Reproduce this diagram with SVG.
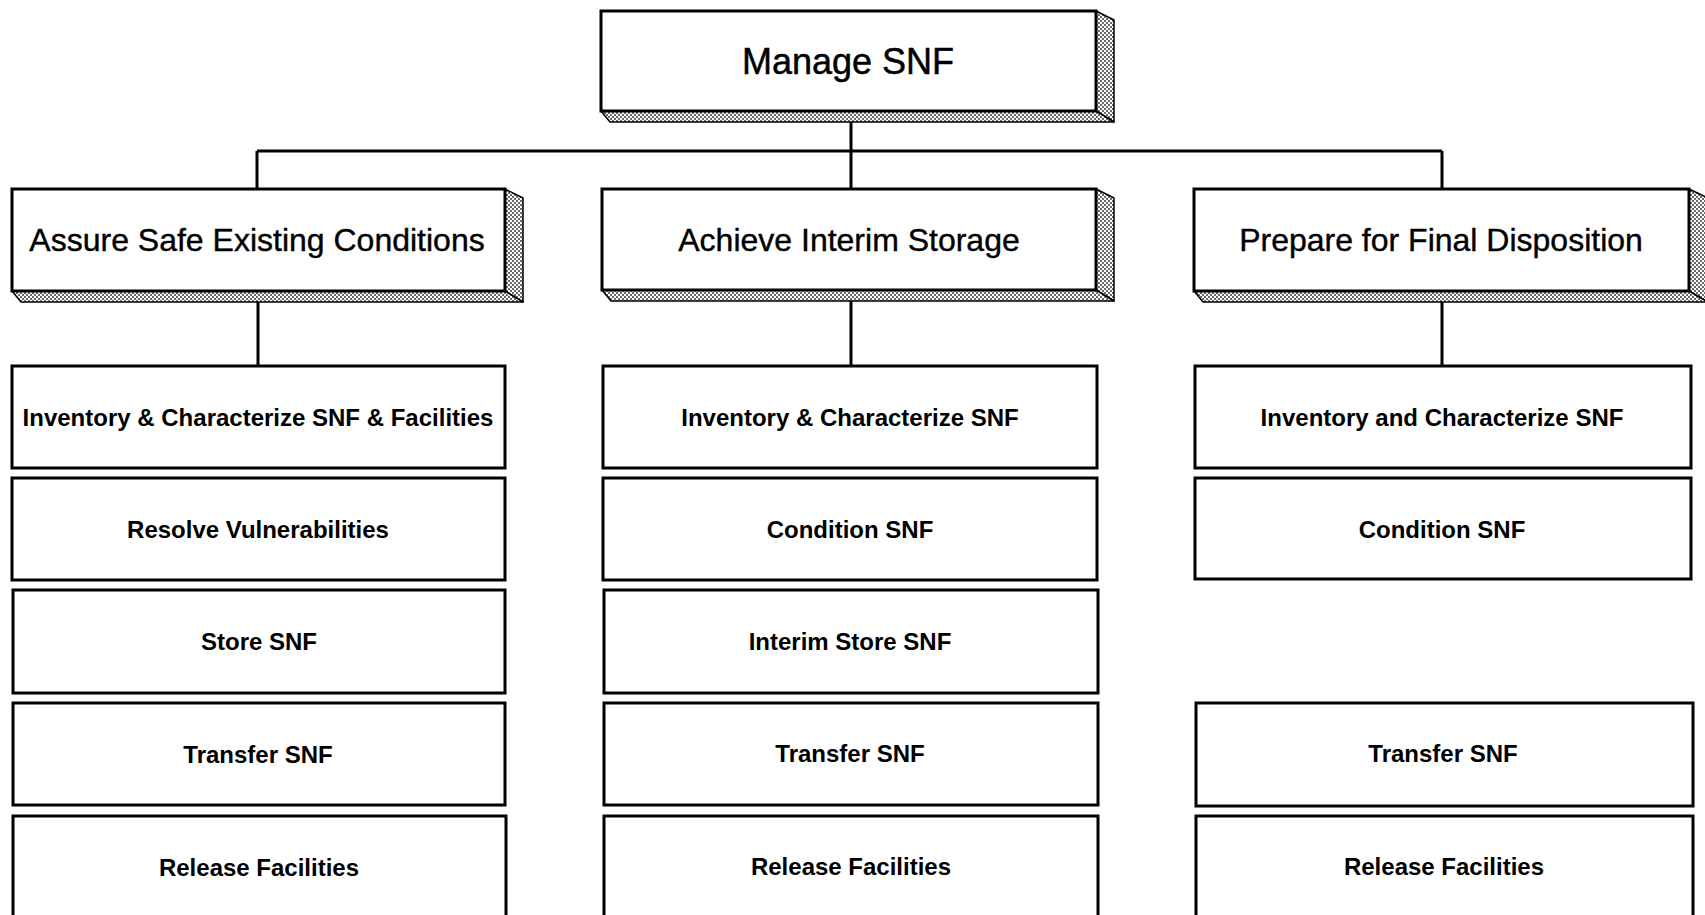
<svg xmlns="http://www.w3.org/2000/svg" width="1705" height="915" viewBox="0 0 1705 915">
  <defs>
    <pattern id="dots" width="4" height="4" patternUnits="userSpaceOnUse">
      <rect width="4" height="4" fill="#ffffff"/>
      <rect x="0" y="0" width="2" height="2" fill="#6a6a6a"/>
      <rect x="2" y="2" width="2" height="2" fill="#6a6a6a"/>
    </pattern>
  </defs>
  <style>
    .box { fill: #ffffff; stroke: #000000; stroke-width: 3; }
    .shade { fill: url(#dots); stroke: #000000; stroke-width: 1.5; stroke-linejoin: round; }
    .conn { stroke: #000000; stroke-width: 3; fill: none; }
    .t1 { font-family: "Liberation Sans", Arial, sans-serif; font-size: 36px; fill: #000; stroke: #000; stroke-width: 0.5; text-anchor: middle; }
    .t2 { font-family: "Liberation Sans", Arial, sans-serif; font-size: 32px; fill: #000; stroke: #000; stroke-width: 0.4; text-anchor: middle; }
    .t3 { font-family: "Liberation Sans", Arial, sans-serif; font-size: 24px; font-weight: bold; fill: #000; text-anchor: middle; }
  </style>
  <rect width="1705" height="915" fill="#ffffff"/>

  <g id="connectors">
    <path class="conn" d="M851 122 V151"/>
    <path class="conn" d="M257 151 H1442"/>
    <path class="conn" d="M257 151 V188"/>
    <path class="conn" d="M851 151 V188"/>
    <path class="conn" d="M1442 151 V188"/>
    <path class="conn" d="M258 301 V366"/>
    <path class="conn" d="M851 300 V366"/>
    <path class="conn" d="M1442 301 V366"/>
  </g>

  <g id="manage-snf">
    <polygon class="shade" points="1096,11 1114,20 1114,122 1096,111"/>
    <polygon class="shade" points="601,111 1096,111 1114,122 610,122"/>
    <rect class="box" x="601" y="11" width="495" height="100"/>
    <text class="t1" x="848" y="74">Manage SNF</text>
  </g>

  <g id="assure-safe">
    <polygon class="shade" points="505,189 523,198 523,302 505,291"/>
    <polygon class="shade" points="12,291 505,291 523,302 21,302"/>
    <rect class="box" x="12" y="189" width="493" height="102"/>
    <text class="t2" x="257" y="251">Assure Safe Existing Conditions</text>
  </g>

  <g id="achieve-interim">
    <polygon class="shade" points="1096,189 1114,198 1114,301 1096,290"/>
    <polygon class="shade" points="602,290 1096,290 1114,301 611,301"/>
    <rect class="box" x="602" y="189" width="494" height="101"/>
    <text class="t2" x="849" y="251">Achieve Interim Storage</text>
  </g>

  <g id="prepare-final">
    <polygon class="shade" points="1689,189 1708,198 1708,302 1689,291"/>
    <polygon class="shade" points="1194,291 1689,291 1708,302 1203,302"/>
    <rect class="box" x="1194" y="189" width="495" height="102"/>
    <text class="t2" x="1441" y="251">Prepare for Final Disposition</text>
  </g>

  <g id="c1-inventory">
    <rect class="box" x="12" y="366" width="493" height="102"/>
    <text class="t3" x="258" y="426">Inventory &amp; Characterize SNF &amp; Facilities</text>
  </g>
  <g id="c1-resolve">
    <rect class="box" x="12" y="478" width="493" height="102"/>
    <text class="t3" x="258" y="538">Resolve Vulnerabilities</text>
  </g>
  <g id="c1-store">
    <rect class="box" x="13" y="590" width="492" height="103"/>
    <text class="t3" x="259" y="650">Store SNF</text>
  </g>
  <g id="c1-transfer">
    <rect class="box" x="13" y="703" width="492" height="102"/>
    <text class="t3" x="258" y="763">Transfer SNF</text>
  </g>
  <g id="c1-release">
    <rect class="box" x="13" y="816" width="493" height="120"/>
    <text class="t3" x="259" y="876">Release Facilities</text>
  </g>

  <g id="c2-inventory">
    <rect class="box" x="603" y="366" width="494" height="102"/>
    <text class="t3" x="850" y="426">Inventory &amp; Characterize SNF</text>
  </g>
  <g id="c2-condition">
    <rect class="box" x="603" y="478" width="494" height="102"/>
    <text class="t3" x="850" y="538">Condition SNF</text>
  </g>
  <g id="c2-interim-store">
    <rect class="box" x="604" y="590" width="494" height="103"/>
    <text class="t3" x="850" y="650">Interim Store SNF</text>
  </g>
  <g id="c2-transfer">
    <rect class="box" x="604" y="703" width="494" height="102"/>
    <text class="t3" x="850" y="762">Transfer SNF</text>
  </g>
  <g id="c2-release">
    <rect class="box" x="604" y="816" width="494" height="120"/>
    <text class="t3" x="851" y="875">Release Facilities</text>
  </g>

  <g id="c3-inventory">
    <rect class="box" x="1195" y="366" width="496" height="102"/>
    <text class="t3" x="1442" y="426">Inventory and Characterize SNF</text>
  </g>
  <g id="c3-condition">
    <rect class="box" x="1195" y="478" width="496" height="101"/>
    <text class="t3" x="1442" y="538">Condition SNF</text>
  </g>
  <g id="c3-transfer">
    <rect class="box" x="1196" y="703" width="497" height="103"/>
    <text class="t3" x="1443" y="762">Transfer SNF</text>
  </g>
  <g id="c3-release">
    <rect class="box" x="1196" y="816" width="497" height="120"/>
    <text class="t3" x="1444" y="875">Release Facilities</text>
  </g>
</svg>
